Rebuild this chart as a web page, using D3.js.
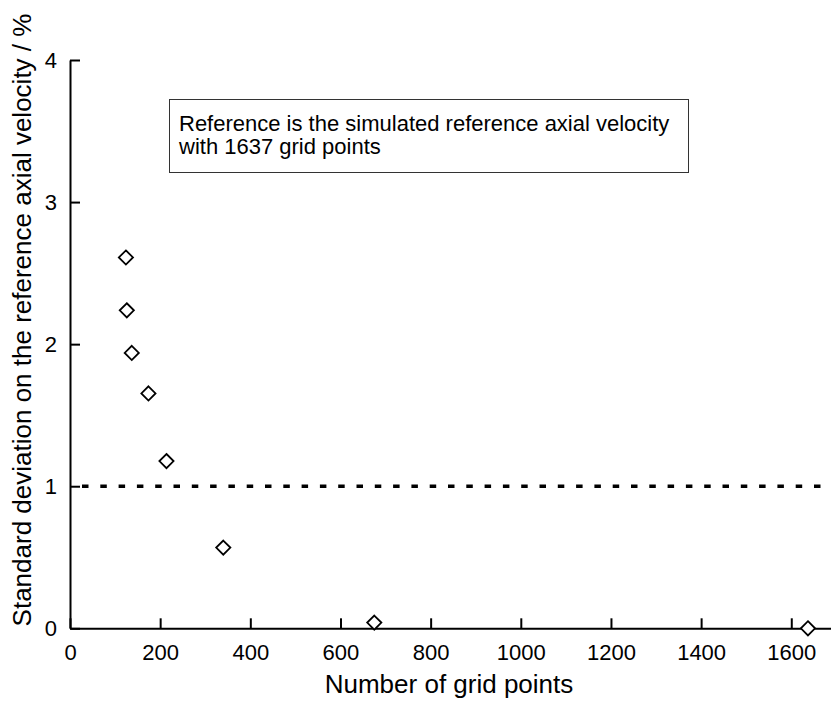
<!DOCTYPE html>
<html>
<head>
<meta charset="utf-8">
<script src="https://cdn.jsdelivr.net/npm/d3@7"></script>
<style>
  body { margin: 0; background: #fff; }
  text { font-family: "Liberation Sans", Arial, sans-serif; fill: #000; }
</style>
</head>
<body>
<div id="chart"></div>
<script>
// 격자점 수 vs 표준편차
const gridPoints = [124, 126, 137, 174, 214, 340, 675, 1637];
const stdDev = [2.61, 2.238, 1.938, 1.653, 1.177, 0.568, 0.04, 0.0];
const xTicks = [0, 200, 400, 600, 800, 1000, 1200, 1400, 1600];
const yTicks = [0, 1, 2, 3, 4];
const threshold = 1;
const noteLines = [
  "Reference is the simulated reference axial velocity",
  "with 1637 grid points",
];

const width = 831, height = 711;

const svg = d3
  .select("#chart")
  .append("svg")
  .attr("width", width)
  .attr("height", height);

const x = d3.scaleLinear().domain([0, 1700]).range([70, 70 + 1700 * 0.4508]);
const y = d3.scaleLinear().domain([0, 4]).range([628.3, 60]);

// x 축
const gx = svg
  .append("g")
  .attr("transform", `translate(0,${y(0)})`)
  .call(
    d3.axisBottom(x).tickValues(xTicks).tickFormat(d3.format("d"))
      .tickSizeInner(-10).tickSizeOuter(0).tickPadding(16)
  );

// y 축
const gy = svg
  .append("g")
  .attr("transform", `translate(${x(0)},0)`)
  .call(
    d3.axisLeft(y).tickValues(yTicks).tickFormat(d3.format("d"))
      .tickSizeInner(-10).tickSizeOuter(0).tickPadding(13)
  );

[gx, gy].forEach((g) => {
  g.select(".domain").attr("stroke", "#000").attr("stroke-width", 2);
  g.selectAll(".tick line").attr("stroke", "#000").attr("stroke-width", 2);
  g.selectAll(".tick text").style("font-size", "22px").attr("fill", "#000");
});

// 기준선 (1%)
svg
  .append("line")
  .attr("x1", x(0))
  .attr("x2", width)
  .attr("y1", y(threshold))
  .attr("y2", y(threshold))
  .attr("stroke", "#000")
  .attr("stroke-width", 3.5)
  .attr("stroke-dasharray", "6.5,11.8")
  .attr("stroke-dashoffset", -12);

// 데이터 점 (마름모)
const diamond = d3.symbol().type(d3.symbolDiamond2).size(2 * 8 * 8);
svg
  .append("g")
  .selectAll("path")
  .data(gridPoints)
  .join("path")
  .attr("d", diamond)
  .attr("transform", (d, i) => `translate(${x(d)},${y(stdDev[i])})`)
  .attr("fill", "#fff")
  .attr("stroke", "#000")
  .attr("stroke-width", 1.8);

// 설명 상자
svg
  .append("rect")
  .attr("x", 169.5)
  .attr("y", 99.5)
  .attr("width", 519)
  .attr("height", 73)
  .attr("fill", "#fff")
  .attr("stroke", "#333")
  .attr("stroke-width", 1);

svg
  .append("g")
  .selectAll("text")
  .data(noteLines)
  .join("text")
  .attr("x", 179)
  .attr("y", (d, i) => 131 + i * 23)
  .style("font-size", "22px")
  .text((d) => d);

// 축 제목
svg
  .append("text")
  .attr("x", 449)
  .attr("y", 693)
  .attr("text-anchor", "middle")
  .style("font-size", "26px")
  .text("Number of grid points");

svg
  .append("text")
  .attr("transform", "translate(31,320) rotate(-90)")
  .attr("text-anchor", "middle")
  .style("font-size", "26px")
  .text("Standard deviation on the reference axial velocity / %");
</script>
</body>
</html>
